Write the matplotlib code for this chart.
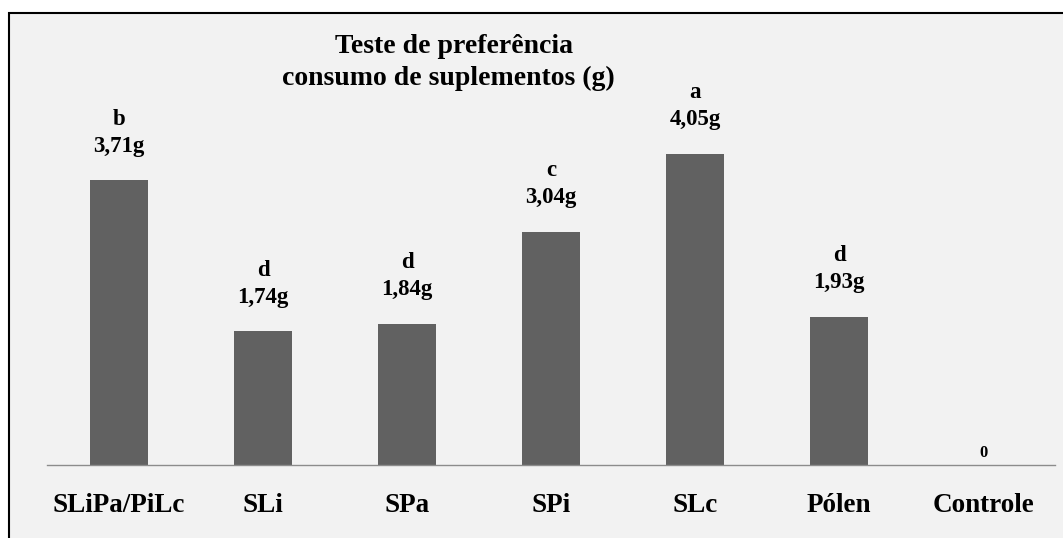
import numpy as np
import matplotlib
matplotlib.use("Agg")
import matplotlib.pyplot as plt
from matplotlib.patches import Rectangle

plt.rcParams["font.family"] = ["Liberation Serif", "DejaVu Serif"]
plt.rcParams["font.weight"] = "bold"

categories = ["SLiPa/PiLc", "SLi", "SPa", "SPi", "SLc", "Pólen", "Controle"]
values = [3.71, 1.74, 1.84, 3.04, 4.05, 1.93, 0.0]
value_labels = ["3,71g", "1,74g", "1,84g", "3,04g", "4,05g", "1,93g", "0"]
letters = ["b", "d", "d", "c", "a", "d", ""]
title_lines = ["Teste de preferência", "consumo de suplementos (g)"]

W, H = 1063, 538
fig = plt.figure(figsize=(W / 100, H / 100), dpi=100)
fig.patch.set_facecolor("white")

# grey panel with a frame on top and left only (cropped screenshot look)
frame = Rectangle((9 / W, -0.1), 1.2, 1.1 - 13 / H, transform=fig.transFigure,
                  facecolor="#f2f2f2", edgecolor="black", linewidth=1.5, zorder=-5)
fig.patches.append(frame)

ax = fig.add_axes([47 / W, 1 - 465 / H, 1008 / W, 365 / H])
ax.set_zorder(2)
ax.set_facecolor("none")
x = np.arange(len(categories))
ax.bar(x, values, width=0.4, color="#616161", zorder=2)
ax.set_xlim(-0.5, len(categories) - 0.5)
ax.set_ylim(0, 365 / 76.8)

for s in ["top", "right", "left"]:
    ax.spines[s].set_visible(False)
ax.spines["bottom"].set_color("#8c8c8c")
ax.spines["bottom"].set_linewidth(1.0)
ax.set_yticks([])
ax.set_xticks(x)
ax.set_xticklabels(categories, fontsize=19.5, fontweight="bold")
ax.tick_params(axis="x", length=0, pad=20)

for i, v in enumerate(values):
    if letters[i]:
        ax.annotate(value_labels[i], xy=(i, v), xytext=(0, 20.5), textcoords="offset points",
                    ha="center", va="baseline", fontsize=16.5, fontweight="bold",
                    annotation_clip=False)
        ax.annotate(letters[i], xy=(i, v), xytext=(0, 40), textcoords="offset points",
                    ha="center", va="baseline", fontsize=16.5, fontweight="bold",
                    annotation_clip=False)
    else:
        ax.annotate(value_labels[i], xy=(i, v), xytext=(0, 6), textcoords="offset points",
                    ha="center", va="baseline", fontsize=12, fontweight="bold",
                    annotation_clip=False)

fig.text(454 / W, 1 - 53 / H, title_lines[0], ha="center", va="baseline",
         fontsize=20, fontweight="bold", zorder=3)
fig.text(448 / W, 1 - 85 / H, title_lines[1], ha="center", va="baseline",
         fontsize=20, fontweight="bold", zorder=3)

fig.savefig("out.png", dpi=100)
